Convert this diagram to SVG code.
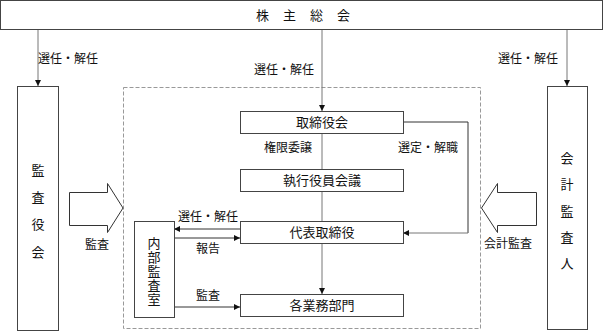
<svg xmlns="http://www.w3.org/2000/svg" width="605" height="332" viewBox="0 0 605 332">
<defs>
<marker id="ah" viewBox="0 0 10 10" refX="10" refY="5" markerWidth="6" markerHeight="6" markerUnits="userSpaceOnUse" orient="auto">
<path d="M0,0 L10,5 L0,10 z" fill="#111"/>
</marker>
<style>
.box{fill:#fff;stroke:#444;stroke-width:1}
.t{font-family:"Liberation Serif","Noto Sans CJK JP",serif;fill:#111;text-anchor:middle;dominant-baseline:central}
.m{font-size:13px}
.s{font-size:12px}
.ln{fill:none;stroke:#777;stroke-width:1}
.ld{fill:none;stroke:#333;stroke-width:1}
.blk{fill:#fff;stroke:#333;stroke-width:1}
</style>
</defs>
<rect width="605" height="332" fill="#fff"/>
<rect x="123.5" y="87.5" width="357" height="241" fill="none" stroke="#999" stroke-dasharray="4 2"/>
<g id="connectors">
<path class="ln" d="M38,30 V86" marker-end="url(#ah)"/>
<path class="ln" d="M567,30 V86" marker-end="url(#ah)"/>
<path class="ln" d="M322,30 V111" marker-end="url(#ah)"/>
<path class="ln" d="M322,133 V169"/>
<path class="ln" d="M322,192 V221"/>
<path class="ln" d="M322,244 V294" marker-end="url(#ah)"/>
<path class="ld" d="M403,122 H468 V233"/>
<path class="ln" d="M468,233 H403" marker-end="url(#ah)"/>
<path class="ld" d="M240,229 H174" marker-end="url(#ah)"/>
<path class="ld" d="M174,238 H240" marker-end="url(#ah)"/>
<path class="ld" d="M174,307 H240" marker-end="url(#ah)"/>
<path class="blk" d="M69.5,192.5 H107.5 V183.5 L123,208 L107.5,232.5 V225.5 H69.5 Z"/>
<path class="blk" d="M536.5,192.5 H497.5 V183.5 L481.5,208 L497.5,232.5 V225.5 H536.5 Z"/>
<text class="t s" x="68" y="59">選任・解任</text>
<text class="t s" x="528" y="59">選任・解任</text>
<text class="t s" x="284" y="70">選任・解任</text>
<text class="t s" x="288" y="148">権限委譲</text>
<text class="t s" x="428" y="148">選定・解職</text>
<text class="t s" x="208" y="217">選任・解任</text>
<text class="t s" x="208" y="249">報告</text>
<text class="t s" x="208" y="296">監査</text>
<text class="t s" x="97" y="245">監査</text>
<text class="t s" x="508" y="244">会計監査</text>
</g>
<g id="kabunushi">
<rect class="box" x="0.5" y="0.5" width="602" height="29"/>
<text class="t m" x="310" y="15" letter-spacing="14">株主総会</text>
</g>
<g id="kansayakukai">
<rect class="box" x="17.5" y="86.5" width="41" height="244"/>
<text class="t m" x="38" y="170">監</text>
<text class="t m" x="38" y="197">査</text>
<text class="t m" x="38" y="224">役</text>
<text class="t m" x="38" y="252">会</text>
</g>
<g id="kaikeikansanin">
<rect class="box" x="547.5" y="86.5" width="40" height="243"/>
<text class="t m" x="567" y="158">会</text>
<text class="t m" x="567" y="184">計</text>
<text class="t m" x="567" y="211">監</text>
<text class="t m" x="567" y="237">査</text>
<text class="t m" x="567" y="263">人</text>
</g>
<g id="torishimariyakukai">
<rect class="box" x="240.5" y="111.5" width="163" height="22"/>
<text class="t m" x="322" y="122.5">取締役会</text>
</g>
<g id="shikkou">
<rect class="box" x="240.5" y="169.5" width="163" height="22"/>
<text class="t m" x="322" y="180.5">執行役員会議</text>
</g>
<g id="daihyou">
<rect class="box" x="240.5" y="221.5" width="163" height="22"/>
<text class="t m" x="322" y="232.5">代表取締役</text>
</g>
<g id="kakugyoumu">
<rect class="box" x="240.5" y="294.5" width="163" height="22"/>
<text class="t m" x="322" y="305.5">各業務部門</text>
</g>
<g id="naibukansa">
<rect class="box" x="134.5" y="221.5" width="40" height="96"/>
<text class="t m" x="154" y="243">内</text>
<text class="t m" x="154" y="257">部</text>
<text class="t m" x="154" y="271">監</text>
<text class="t m" x="154" y="285">査</text>
<text class="t m" x="154" y="299">室</text>
</g>
</svg>
